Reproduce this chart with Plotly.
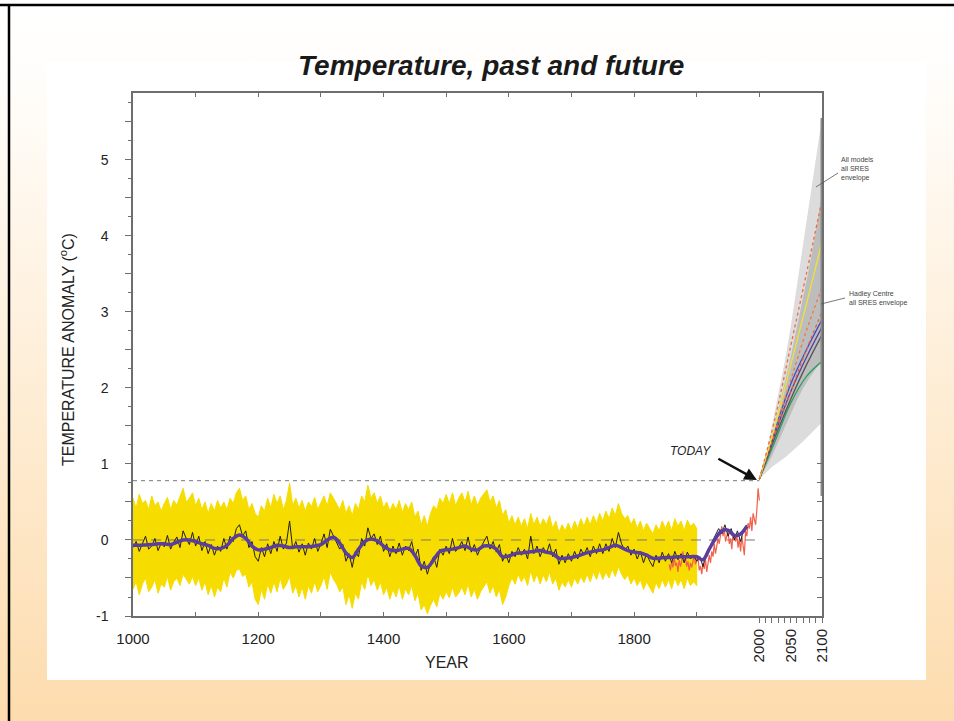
import base64
import plotly.graph_objects as go

# ---------------------------------------------------------------- data
# Proxy reconstruction (annual values sampled every 5 years), 1000-1980
recon_years = list(range(1000, 1985, 5))
recon_vals = [
    -0.10, -0.02, -0.15, -0.05, 0.05, -0.12, -0.08, 0.02, -0.14, -0.04,
    -0.09, 0.06, -0.12, -0.03, 0.04, -0.10, 0.12, 0.02, -0.06, 0.10,
    -0.08, 0.05, -0.14, -0.02, -0.18, -0.06, -0.20, -0.08, -0.15, 0.02,
    -0.12, 0.05, -0.02, 0.15, 0.20, 0.05, 0.12, -0.10, -0.02, -0.22,
    -0.28, -0.10, -0.22, -0.05, -0.18, -0.02, -0.15, 0.05, -0.12, -0.04,
    0.25, -0.12, -0.02, -0.16, -0.05, -0.20, -0.04, -0.12, 0.02, -0.15,
    -0.05, 0.08, -0.10, 0.14, 0.05, -0.02, -0.12, -0.06, -0.28, -0.18,
    -0.36, -0.15, -0.22, 0.02, -0.08, 0.16, 0.02, 0.08, -0.06, 0.05,
    -0.15, -0.05, -0.22, -0.08, -0.18, -0.04, -0.20, -0.08, -0.14, -0.02,
    -0.22, -0.12, -0.40, -0.28, -0.45, -0.30, -0.22, -0.36, -0.12, -0.20,
    -0.08, -0.18, 0.02, -0.15, -0.10, -0.02, -0.14, 0.04, -0.16, -0.06,
    -0.20, -0.10, -0.02, 0.05, -0.12, -0.02, -0.16, -0.06, -0.28, -0.18,
    -0.30, -0.15, -0.22, -0.10, -0.20, -0.12, -0.25, 0.05, -0.18, -0.08,
    -0.22, -0.10, -0.18, -0.05, -0.22, -0.12, -0.32, -0.20, -0.30, -0.18,
    -0.28, -0.15, -0.25, -0.12, -0.20, -0.10, -0.22, -0.08, -0.18, -0.05,
    -0.18, -0.05, -0.15, 0.02, -0.10, 0.10, -0.05, -0.14, -0.08, -0.20,
    -0.12, -0.25, -0.15, -0.30, -0.18, -0.28, -0.35, -0.20, -0.30, -0.16,
    -0.28, -0.18, -0.30, -0.15, -0.26, -0.18, -0.30, -0.16, -0.25, -0.20,
    -0.28, -0.22, -0.35, -0.18, -0.10, -0.02, 0.05, 0.15, 0.08, 0.20,
    0.05, 0.15, 0.00, 0.12, -0.02, 0.14, 0.20,
]

# Uncertainty band of the reconstruction, 1000-1900
band_years = list(range(1000, 1905, 5))
band_upper = [
    0.55, 0.42, 0.60, 0.48, 0.52, 0.40, 0.58, 0.45, 0.50, 0.38,
    0.48, 0.56, 0.40, 0.52, 0.46, 0.58, 0.68, 0.50, 0.55, 0.62,
    0.45, 0.55, 0.40, 0.50, 0.35, 0.48, 0.38, 0.52, 0.42, 0.50,
    0.40, 0.55, 0.48, 0.62, 0.68, 0.52, 0.58, 0.40, 0.48, 0.35,
    0.30, 0.45, 0.38, 0.55, 0.42, 0.60, 0.48, 0.58, 0.40, 0.52,
    0.75, 0.45, 0.55, 0.42, 0.52, 0.38, 0.50, 0.44, 0.56, 0.40,
    0.48, 0.58, 0.45, 0.62, 0.55, 0.48, 0.40, 0.52, 0.35, 0.45,
    0.32, 0.48, 0.40, 0.58, 0.50, 0.72, 0.55, 0.62, 0.48, 0.58,
    0.42, 0.50, 0.38, 0.48, 0.40, 0.52, 0.36, 0.48, 0.40, 0.50,
    0.30, 0.38, 0.20, 0.32, 0.18, 0.35, 0.45, 0.40, 0.55, 0.48,
    0.60, 0.48, 0.62, 0.45, 0.55, 0.62, 0.50, 0.64, 0.46, 0.58,
    0.45, 0.55, 0.60, 0.66, 0.50, 0.58, 0.42, 0.52, 0.32, 0.40,
    0.22, 0.32, 0.20, 0.30, 0.18, 0.28, 0.15, 0.35, 0.20, 0.30,
    0.18, 0.28, 0.20, 0.32, 0.15, 0.25, 0.10, 0.20, 0.12, 0.22,
    0.12, 0.25, 0.15, 0.28, 0.18, 0.30, 0.20, 0.32, 0.22, 0.35,
    0.25, 0.38, 0.28, 0.42, 0.32, 0.48, 0.35, 0.28, 0.32, 0.20,
    0.28, 0.15, 0.25, 0.12, 0.22, 0.15, 0.08, 0.20, 0.12, 0.25,
    0.15, 0.25, 0.12, 0.28, 0.18, 0.25, 0.12, 0.26, 0.18, 0.22,
    0.15,
]
band_lower = [
    -0.65, -0.55, -0.72, -0.58, -0.50, -0.68, -0.62, -0.52, -0.70, -0.58,
    -0.62, -0.48, -0.66, -0.55, -0.50, -0.60, -0.45, -0.52, -0.58, -0.48,
    -0.60, -0.50, -0.66, -0.55, -0.72, -0.60, -0.75, -0.62, -0.68, -0.50,
    -0.62, -0.42, -0.50, -0.40, -0.38, -0.48, -0.45, -0.62, -0.55, -0.78,
    -0.85, -0.65, -0.78, -0.58, -0.70, -0.55, -0.68, -0.50, -0.65, -0.58,
    -0.48, -0.70, -0.60, -0.75, -0.62, -0.78, -0.60, -0.70, -0.55, -0.68,
    -0.60, -0.48, -0.65, -0.42, -0.52, -0.58, -0.68, -0.62, -0.85, -0.72,
    -0.90, -0.70, -0.78, -0.55, -0.65, -0.45, -0.60, -0.52, -0.66, -0.55,
    -0.72, -0.62, -0.78, -0.65, -0.75, -0.60, -0.78, -0.64, -0.72, -0.60,
    -0.80, -0.70, -0.92, -0.85, -0.97, -0.86, -0.78, -0.88, -0.70, -0.78,
    -0.68, -0.76, -0.62, -0.75, -0.70, -0.62, -0.72, -0.58, -0.75, -0.65,
    -0.78, -0.68, -0.62, -0.55, -0.70, -0.60, -0.75, -0.65, -0.85, -0.75,
    -0.60, -0.50, -0.58, -0.45, -0.55, -0.48, -0.60, -0.40, -0.55, -0.45,
    -0.58, -0.46, -0.55, -0.42, -0.58, -0.50, -0.66, -0.55, -0.62, -0.52,
    -0.62, -0.50, -0.58, -0.48, -0.56, -0.45, -0.55, -0.42, -0.52, -0.40,
    -0.52, -0.42, -0.50, -0.38, -0.48, -0.35, -0.45, -0.52, -0.46, -0.58,
    -0.50, -0.60, -0.52, -0.65, -0.55, -0.62, -0.70, -0.56, -0.64, -0.52,
    -0.62, -0.52, -0.64, -0.50, -0.60, -0.52, -0.64, -0.50, -0.60, -0.55,
    -0.60,
]

# 40-year smoothed reconstruction, decadal
smooth_years = list(range(1000, 1990, 10))
smooth_vals = [
    -0.07, -0.07, -0.065, -0.06, -0.05, -0.05, -0.06, -0.03, 0.00, 0.00,
    -0.02, -0.05, -0.07, -0.11, -0.11, -0.07, 0.02, 0.065, 0.02, -0.08,
    -0.13, -0.12, -0.10, -0.07, -0.08, -0.10, -0.09, -0.09, -0.09, -0.08,
    -0.06, 0.00, 0.035, -0.04, -0.17, -0.23, -0.12, -0.02, 0.013, -0.01,
    -0.08, -0.13, -0.14, -0.12, -0.11, -0.20, -0.34, -0.36, -0.26, -0.15,
    -0.13, -0.12, -0.10, -0.08, -0.12, -0.13, -0.08, -0.08, -0.12, -0.22,
    -0.21, -0.18, -0.17, -0.16, -0.15, -0.14, -0.16, -0.18, -0.24, -0.24,
    -0.23, -0.21, -0.18, -0.16, -0.14, -0.13, -0.10, -0.07, -0.10, -0.14,
    -0.16, -0.17, -0.20, -0.24, -0.24, -0.23, -0.23, -0.22, -0.22, -0.22,
    -0.22, -0.26, -0.12, 0.02, 0.12, 0.13, 0.06, 0.08, 0.18,
]

# Instrumental record, every second year 1856-2000
instr_years = list(range(1856, 2002, 2))
instr_vals = [
    -0.32, -0.40, -0.28, -0.36, -0.22, -0.34, -0.30, -0.42, -0.26, -0.35,
    -0.28, -0.15, -0.30, -0.22, -0.35, -0.28, -0.40, -0.30, -0.36, -0.25,
    -0.20, -0.32, -0.28, -0.22, -0.40, -0.34, -0.45, -0.30, -0.38, -0.25,
    -0.42, -0.28, -0.20, -0.30, -0.15, -0.22, -0.05, -0.18, -0.10, 0.02,
    -0.05, 0.10, 0.18, 0.05, 0.15, -0.02, 0.08, 0.12, -0.05, 0.02,
    -0.12, 0.10, 0.05, -0.02, 0.08, -0.10, 0.02, -0.15, 0.05, -0.08,
    -0.20, 0.12, 0.05, 0.22, 0.15, 0.30, 0.12, 0.35, 0.25, 0.20,
    0.40, 0.68, 0.52,
]

# Reference levels: long-term baseline and present-day temperature
baseline_years = [1000, 2000]
baseline_vals = [0.0, 0.0]
today_years = [1000, 2000]
today_vals = [0.78, 0.78]

# Projections 2000-2100
proj_years = [2000, 2010, 2020, 2030, 2040, 2050, 2060, 2070, 2080, 2090, 2100]
all_models_upper = [0.80, 1.10, 1.50, 1.90, 2.32, 2.80, 3.35, 3.95, 4.50, 5.05, 5.55]
all_models_lower = [0.80, 0.88, 0.96, 1.02, 1.08, 1.15, 1.22, 1.30, 1.38, 1.46, 1.55]
hadley_upper = [0.80, 1.05, 1.35, 1.70, 2.05, 2.40, 2.80, 3.20, 3.60, 4.05, 4.55]
hadley_lower = [0.80, 0.95, 1.10, 1.30, 1.48, 1.66, 1.84, 2.00, 2.13, 2.25, 2.35]
envelope_bar_years = [2100, 2100]
envelope_bar_vals = [0.58, 5.55]

scen_years = [2000, 2025, 2050, 2075, 2100]
scen_a1fi = [0.80, 1.60, 2.55, 3.50, 4.47]
scen_a2 = [0.80, 1.50, 2.30, 3.10, 3.92]
scen_a1b = [0.80, 1.45, 2.10, 2.75, 3.32]
scen_is92 = [0.80, 1.40, 1.95, 2.50, 3.00]
scen_b2 = [0.80, 1.45, 2.05, 2.50, 2.90]
scen_a1t = [0.80, 1.40, 1.95, 2.40, 2.80]
scen_b1a = [0.80, 1.35, 1.85, 2.30, 2.70]
scen_b1 = [0.80, 1.30, 1.80, 2.15, 2.35]

x_major = list(range(1000, 2000, 100))
x_labels = ["1000", "", "1200", "", "1400", "", "1600", "", "1800", ""]
x_future = list(range(2000, 2110, 10))
x_future_labels = ["2000", "", "", "", "", "2050", "", "", "", "", "2100"]
y_major = [v / 2 for v in range(-2, 12)]
y_labels = [str(int(v)) if v == int(v) else "" for v in y_major]

# ---------------------------------------------------------------- layout geometry
W, H = 954, 721
L, R, T, B = 133, 822, 93, 616


def px(x):
    return (x - L) / (R - L)


def py(y):
    return (B - y) / (B - T)


FONT = "Liberation Sans, Arial, sans-serif"

fig = go.Figure()

# projection envelopes
fig.add_trace(go.Scatter(
    x=proj_years + proj_years[::-1], y=all_models_upper + all_models_lower[::-1],
    fill="toself", fillcolor="#dcdcdc", line=dict(width=0), mode="lines",
    hoverinfo="skip"))
fig.add_trace(go.Scatter(
    x=proj_years + proj_years[::-1], y=hadley_upper + hadley_lower[::-1],
    fill="toself", fillcolor="#bdbdbd", line=dict(width=0), mode="lines",
    hoverinfo="skip"))

# reconstruction uncertainty
fig.add_trace(go.Scatter(
    x=band_years + band_years[::-1], y=band_upper + band_lower[::-1],
    fill="toself", fillcolor="#f7dc00", line=dict(color="#f7dc00", width=1),
    mode="lines", hoverinfo="skip"))

# reference dashed levels
fig.add_trace(go.Scatter(x=baseline_years, y=baseline_vals, mode="lines",
                         line=dict(color="#777777", width=1, dash="10px,8px")))
fig.add_trace(go.Scatter(x=today_years, y=today_vals, mode="lines",
                         line=dict(color="#777777", width=1, dash="4px,4px")))

# instrumental, proxy and smoothed series
fig.add_trace(go.Scatter(x=instr_years, y=instr_vals, mode="lines",
                         line=dict(color="#f0604a", width=1.2)))
fig.add_trace(go.Scatter(x=recon_years, y=recon_vals, mode="lines",
                         line=dict(color="#1e1e1e", width=1)))
fig.add_trace(go.Scatter(x=smooth_years, y=smooth_vals, mode="lines",
                         line=dict(color="#5a3e9e", width=3.5, shape="spline")))

# scenario projections
scenarios = [
    (scen_b1, "#2aa060", "solid"),
    (scen_b1a, "#555555", "solid"),
    (scen_a1t, "#5a3e9e", "solid"),
    (scen_b2, "#3a4fc0", "solid"),
    (scen_is92, "#e8603a", "dot"),
    (scen_a1b, "#f07a3c", "dot"),
    (scen_a2, "#eee23a", "solid"),
    (scen_a1fi, "#f26b38", "dot"),
]
for vals, col, dash in scenarios:
    fig.add_trace(go.Scatter(x=scen_years, y=vals, mode="lines",
                             line=dict(color=col, width=1.3, dash=dash, shape="spline")))

fig.add_trace(go.Scatter(x=envelope_bar_years, y=envelope_bar_vals, mode="lines",
                         line=dict(color="#8a8a8a", width=3)))

# ---------------------------------------------------------------- background
svg = (
    f'<svg xmlns="http://www.w3.org/2000/svg" width="{W}" height="{H}" '
    f'viewBox="0 0 {W} {H}" preserveAspectRatio="none">'
    '<defs><linearGradient id="g" x1="0" y1="0" x2="0" y2="1">'
    '<stop offset="0" stop-color="#ffffff"/>'
    '<stop offset="0.12" stop-color="#fffdfa"/>'
    '<stop offset="1" stop-color="#fddcae"/>'
    '</linearGradient></defs>'
    f'<rect width="{W}" height="{H}" fill="url(#g)"/></svg>'
)
bg_src = "data:image/svg+xml;base64," + base64.b64encode(svg.encode()).decode()

shapes = [
    dict(type="rect", xref="paper", yref="paper", layer="below",
         x0=px(47), x1=px(926), y0=py(680), y1=py(62),
         fillcolor="white", line=dict(width=0)),
    dict(type="line", xref="paper", yref="paper",
         x0=px(0), x1=px(W), y0=py(5), y1=py(5),
         line=dict(color="black", width=2.5)),
    dict(type="line", xref="paper", yref="paper",
         x0=px(9), x1=px(9), y0=py(4), y1=py(H),
         line=dict(color="black", width=2.5)),
    # leader lines for the envelope labels
    dict(type="line", xref="paper", yref="paper",
         x0=px(816), x1=px(838), y0=py(187), y1=py(173),
         line=dict(color="#555555", width=0.8)),
    dict(type="line", xref="paper", yref="paper",
         x0=px(821), x1=px(845), y0=py(304), y1=py(298),
         line=dict(color="#555555", width=0.8)),
]


def label(text, x, y, size, xanchor="center", **kw):
    return dict(text=text, xref="paper", yref="paper", x=px(x), y=py(y),
                xanchor=xanchor, yanchor="middle", showarrow=False,
                font=dict(family=kw.pop("family", FONT), size=size,
                          color=kw.pop("color", "#222222")), **kw)


annotations = [
    label("<b><i>Temperature, past and future</i></b>", 491, 65, 28,
          family="Liberation Sans Narrow, Liberation Sans, Arial", color="#1a1a1a"),
    label("YEAR", 447, 662, 16),
    label("TEMPERATURE ANOMALY (<sup>o</sup>C)", 67, 350, 16, textangle=-90),
    label("<i>TODAY</i>", 690, 451, 12),
    dict(text="", x=1996, y=0.79, xref="x", yref="y", showarrow=True,
         ax=-40, ay=-22, arrowhead=2, arrowsize=1, arrowwidth=2.5,
         arrowcolor="#111111"),
    label("All models<br>all SRES<br>envelope", 839, 169, 7, xanchor="left",
          align="left", color="#444444"),
    label("Hadley Centre<br>all SRES envelope", 847, 298, 7, xanchor="left",
          align="left", color="#444444"),
]

AXC = "#6e6e6e"
fig.update_layout(
    width=W, height=H, margin=dict(l=L, r=W - R, t=T, b=H - B),
    paper_bgcolor="white", plot_bgcolor="rgba(0,0,0,0)", showlegend=False,
    images=[dict(source=bg_src, xref="paper", yref="paper", x=px(0), y=py(0),
                 sizex=W / (R - L), sizey=H / (B - T), sizing="stretch",
                 xanchor="left", yanchor="top", layer="below")],
    shapes=shapes, annotations=annotations,
    xaxis=dict(range=[1000, 2100], showgrid=False, zeroline=False,
               showline=True, linecolor=AXC, linewidth=1.5,
               tickmode="array", tickvals=x_major, ticktext=x_labels,
               ticks="inside", ticklen=4, tickcolor=AXC, tickwidth=1,
               ticklabelstandoff=8,
               tickfont=dict(family=FONT, size=15, color="#222222")),
    xaxis2=dict(range=[1000, 2100], overlaying="x", side="top", anchor="y",
                showgrid=False, zeroline=False, showline=True, linecolor=AXC,
                linewidth=1.5, tickmode="array", tickvals=list(range(1000, 2200, 100)),
                ticks="inside", ticklen=4, tickcolor=AXC, showticklabels=False),
    xaxis3=dict(range=[1000, 2100], overlaying="x", side="bottom", anchor="y",
                showgrid=False, zeroline=False, showline=False,
                tickmode="array", tickvals=x_future, ticktext=x_future_labels,
                ticks="outside", ticklen=6, tickcolor=AXC, tickangle=-90,
                tickfont=dict(family=FONT, size=15, color="#222222")),
    yaxis=dict(range=[-1, 5.88], showgrid=False, zeroline=False,
               showline=True, linecolor=AXC, linewidth=1.5,
               tickmode="array", tickvals=y_major, ticktext=y_labels,
               ticks="outside", ticklen=6, tickcolor=AXC,
               ticklabelstandoff=14,
               minor=dict(tickmode="linear", tick0=-1, dtick=0.25, ticks="outside",
                          ticklen=3, tickcolor=AXC),
               tickfont=dict(family=FONT, size=14, color="#222222")),
    yaxis2=dict(range=[-1, 5.88], overlaying="y", side="right", anchor="x",
                showgrid=False, zeroline=False, showline=True, linecolor=AXC,
                linewidth=1.5, tickmode="array",
                tickvals=[-0.75, -0.5, -0.25, 0, 0.25, 0.5, 0.75, 1.0],
                ticks="inside", ticklen=5, tickcolor=AXC, showticklabels=False),
)

# invisible anchors so the auxiliary axes are drawn
fig.add_trace(go.Scatter(x=[1000], y=[-1], xaxis="x2", yaxis="y2", mode="markers",
                         marker=dict(opacity=0), hoverinfo="skip"))
fig.add_trace(go.Scatter(x=[1000], y=[-1], xaxis="x3", yaxis="y", mode="markers",
                         marker=dict(opacity=0), hoverinfo="skip"))

fig.write_html("out.html")
